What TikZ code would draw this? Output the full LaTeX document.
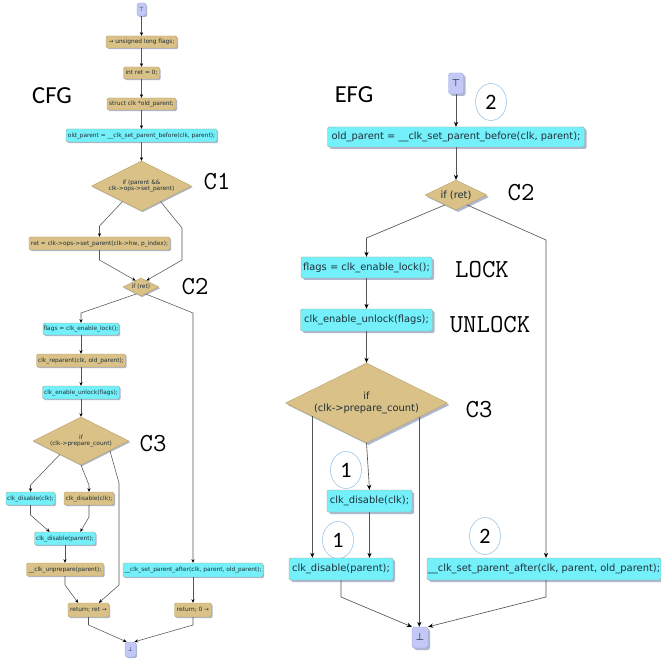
\documentclass[tikz,border=0pt]{standalone}
\usepackage{fontspec}
\setmainfont{DejaVu Sans}
\newfontfamily\lblfont{Carlito}
\usetikzlibrary{shapes.geometric,arrows.meta,shadows,calc}
\definecolor{tanc}{HTML}{D9C187}
\definecolor{tand}{HTML}{B9A46E}
\definecolor{cyc}{HTML}{74F0FB}
\definecolor{cyd}{HTML}{A8AA84}
\definecolor{lavc}{HTML}{C3C8F7}
\definecolor{lavd}{HTML}{9CA3E2}
\definecolor{shadc}{HTML}{A6AFCB}
\definecolor{txtc}{HTML}{1F3038}
\definecolor{edgec}{HTML}{555555}
\definecolor{circc}{HTML}{9CC6EA}
\begin{document}
\begin{tikzpicture}[x=1pt,y=-1pt,
  nb/.style={rectangle, rounded corners=1.5pt, inner sep=0pt, text=txtc},
  shl/.style={drop shadow={shadow xshift=1.2pt, shadow yshift=-1.2pt, fill=shadc, opacity=0.9}},
  shr/.style={drop shadow={shadow xshift=2pt, shadow yshift=-2pt, fill=shadc, opacity=0.9}},
  tanb/.style={nb, fill=tanc, draw=tand},
  cyb/.style={nb, fill=cyc, draw=cyd},
  lavb/.style={nb, rounded corners=2.5pt, fill=lavc, draw=lavd},
  dia/.style={diamond, shape aspect=2, inner sep=0pt, fill=tanc, draw=tand, text=txtc, align=center},
  sm/.style={font=\fontsize{5.85}{6.8}\selectfont, shl},
  bg/.style={font=\fontsize{9.9}{11.5}\selectfont, shr},
  edgeL/.style={draw=edgec, line width=0.55pt, -{Stealth[length=3.6pt,width=3.2pt,color=black]}},
  edgeR/.style={draw=edgec, line width=0.65pt, -{Stealth[length=5pt,width=4.2pt,color=black]}},
  ttl/.style={font=\ttfamily\fontsize{26}{26}\selectfont},
  glabel/.style={font=\lblfont\fontsize{24.5}{24.5}\selectfont},
  num/.style={ellipse, draw=circc, line width=0.6pt, minimum width=31pt, minimum height=37pt, inner sep=0pt, font=\lblfont\fontsize{22}{22}\selectfont}
]
\fill[white] (0,0) rectangle (661,660);
\useasboundingbox (0,0) rectangle (661,660);

% ---------------- CFG ----------------
\node[glabel] (cfg) at (52,96) {CFG};
\node[lavb,sm,minimum width=9pt,minimum height=13pt] (lT) at (141.5,9.5) {⊤};
\node[tanb,sm,minimum width=71pt,minimum height=12pt] (l1) at (141.5,42) {→ unsigned long flags;};
\node[tanb,sm,minimum width=36pt,minimum height=12pt] (l2) at (141.5,73) {int ret = 0;};
\node[tanb,sm,minimum width=69pt,minimum height=12pt] (l3) at (141.5,104) {struct clk *old\_parent;};
\node[cyb,sm,minimum width=151pt,minimum height=13pt] (l4) at (141.5,135.5) {old\_parent = \_\_clk\_set\_parent\_before(clk, parent);};
\node[dia,sm,minimum width=100pt,minimum height=50pt] (lC1) at (141.5,186) {if (parent \&\&\\clk->ops->set\_parent)};
\node[ttl] (c1lab) at (217,182) {C1};
\node[tanb,sm,minimum width=141pt,minimum height=13pt] (l5) at (99.5,243.5) {ret = clk->ops->set\_parent(clk->hw, p\_index);};
\node[dia,sm,minimum width=36pt,minimum height=18pt] (lC2) at (141,287) {if (ret)};
\node[ttl] (c2labl) at (195,287) {C2};
\node[cyb,sm,minimum width=76pt,minimum height=12pt] (l6) at (81,329) {flags = clk\_enable\_lock();};
\node[tanb,sm,minimum width=89pt,minimum height=13pt] (l7) at (81,360.5) {clk\_reparent(clk, old\_parent);};
\node[cyb,sm,minimum width=77pt,minimum height=13pt] (l8) at (81,392.5) {clk\_enable\_unlock(flags);};
\node[dia,sm,minimum width=96pt,minimum height=48pt] (lC3) at (81,441) {if\\(clk->prepare\_count)};
\node[ttl] (c3labl) at (153,444) {C3};
\node[cyb,sm,minimum width=49pt,minimum height=13pt] (l9) at (30.5,498.5) {clk\_disable(clk);};
\node[tanb,sm,minimum width=50pt,minimum height=13pt] (l10) at (89,498.5) {clk\_disable(clk);};
\node[cyb,sm,minimum width=61pt,minimum height=13pt] (l11) at (65,538.5) {clk\_disable(parent);};
\node[tanb,sm,minimum width=77pt,minimum height=13pt] (l12) at (65,569.5) {\_\_clk\_unprepare(parent);};
\node[cyb,sm,minimum width=140pt,minimum height=14pt] (l13) at (193,570) {\_\_clk\_set\_parent\_after(clk, parent, old\_parent);};
\node[tanb,sm,minimum width=41pt,minimum height=14pt] (l14) at (88.5,610) {return; ret →};
\node[tanb,sm,minimum width=37pt,minimum height=14pt] (l15) at (193,610) {return; 0 →};
\node[lavb,sm,minimum width=11pt,minimum height=15pt] (lB) at (130.5,649.5) {⊥};

\draw[edgeL] (lT) -- (l1);
\draw[edgeL] (l1) -- (l2);
\draw[edgeL] (l2) -- (l3);
\draw[edgeL] (l3) -- (l4);
\draw[edgeL] (l4) -- (lC1);
\draw[edgeL] ($(lC1.south)!0.38!(lC1.west)$) -- (99.5,226) -- (l5.north);
\draw[edgeL] ($(lC1.south)!0.38!(lC1.east)$) -- (182,228) -- (182,260) -- ($(lC2.north)!0.3!(lC2.east)$);
\draw[edgeL] (l5.south) -- (99.5,260) -- ($(lC2.north)!0.3!(lC2.west)$);
\draw[edgeL] ($(lC2.south)!0.25!(lC2.west)$) -- (81,313) -- (l6.north);
\draw[edgeL] ($(lC2.south)!0.25!(lC2.east)$) -- (193,313) -- (l13.north);
\draw[edgeL] (l6) -- (l7);
\draw[edgeL] (l7) -- (l8);
\draw[edgeL] (l8) -- (lC3);
\draw[edgeL] ($(lC3.south)!0.44!(lC3.west)$) -- (30.5,485) -- (l9.north);
\draw[edgeL] (lC3.south) -- (89,485) -- (l10.north);
\draw[edgeL] ($(lC3.south)!0.6!(lC3.east)$) -- (119,483) -- (119,585) -- ($(l14.north)!0.5!(l14.north east)$);
\draw[edgeL] (l9.south) -- (30.5,515) -- ($(l11.north)!0.5!(l11.north west)$);
\draw[edgeL] (l10.south) -- (89,517) -- ($(l11.north)!0.5!(l11.north east)$);
\draw[edgeL] (l11) -- (l12);
\draw[edgeL] (l12.south) -- (65,585) -- ($(l14.north)!0.5!(l14.north west)$);
\draw[edgeL] (l13) -- (l15);
\draw[edgeL] (l14.south) -- (88.5,625) -- ($(lB.north)!0.7!(lB.north west)$);
\draw[edgeL] (l15.south) -- (193,625) -- ($(lB.north)!0.7!(lB.north east)$);

% ---------------- EFG ----------------
\node[glabel] (efg) at (354,95) {EFG};
\node[lavb,bg,minimum width=15pt,minimum height=21pt] (rT) at (456,83.5) {⊤};
\node[num] (n2a) at (491,102) {2};
\node[cyb,bg,minimum width=257pt,minimum height=20pt] (r1) at (456,137) {old\_parent = \_\_clk\_set\_parent\_before(clk, parent);};
\node[dia,bg,minimum width=62pt,minimum height=30pt] (rC2) at (456,195) {if (ret)};
\node[ttl] (c2labr) at (521,193) {C2};
\node[cyb,bg,minimum width=131pt,minimum height=21pt] (r2) at (366.5,267.5) {flags = clk\_enable\_lock();};
\node[ttl] (lock) at (482,270) {LOCK};
\node[cyb,bg,minimum width=132pt,minimum height=22pt] (r3) at (366.5,320) {clk\_enable\_unlock(flags);};
\node[ttl] (unlock) at (490,325) {UNLOCK};
\node[dia,bg,minimum width=162pt,minimum height=80pt] (rC3) at (366.5,403) {if\\(clk->prepare\_count)};
\node[ttl] (c3labr) at (479,410) {C3};
\node[num] (n1a) at (346,470) {1};
\node[cyb,bg,minimum width=85pt,minimum height=22pt] (r4) at (369.5,501) {clk\_disable(clk);};
\node[num] (n1b) at (338,540) {1};
\node[num] (n2b) at (485,536) {2};
\node[cyb,bg,minimum width=104pt,minimum height=22pt] (r5) at (341,569) {clk\_disable(parent);};
\node[cyb,bg,minimum width=234pt,minimum height=22pt] (r6) at (544,569) {\_\_clk\_set\_parent\_after(clk, parent, old\_parent);};
\node[lavb,bg,minimum width=16pt,minimum height=21pt] (rB) at (420,637.5) {⊥};

\coordinate (rtop) at (546,240);
\coordinate (c3l) at ($(rC3.south)!0.667!(rC3.west)$);
\coordinate (c3r) at ($(rC3.south)!0.65!(rC3.east)$);
\draw[edgeR] (rT) -- (r1);
\draw[edgeR] (r1) -- (rC2);
\draw[edgeR] ($(rC2.south)!0.35!(rC2.west)$) -- (366.5,238) -- (r2.north);
\draw[edgeR] ($(rC2.south)!0.35!(rC2.east)$) -- (rtop) -- (rtop |- r6.north);
\draw[edgeR] (r2) -- (r3);
\draw[edgeR] (r3) -- (rC3);
\draw[edgeR] (c3l) -- (c3l |- r5.north);
\draw[edgeR] (rC3.south) -- (r4.north);
\draw[edgeR] (c3r) -- (c3r |- rB.north);
\draw[edgeR] (r4.south) -- (r4.south |- r5.north);
\draw[edgeR] (r5.south) -- (341,597) -- (rB.north west);
\draw[edgeR] (r6.south -| rtop) -- (546,597) -- (rB.north east);
\end{tikzpicture}
\end{document}
